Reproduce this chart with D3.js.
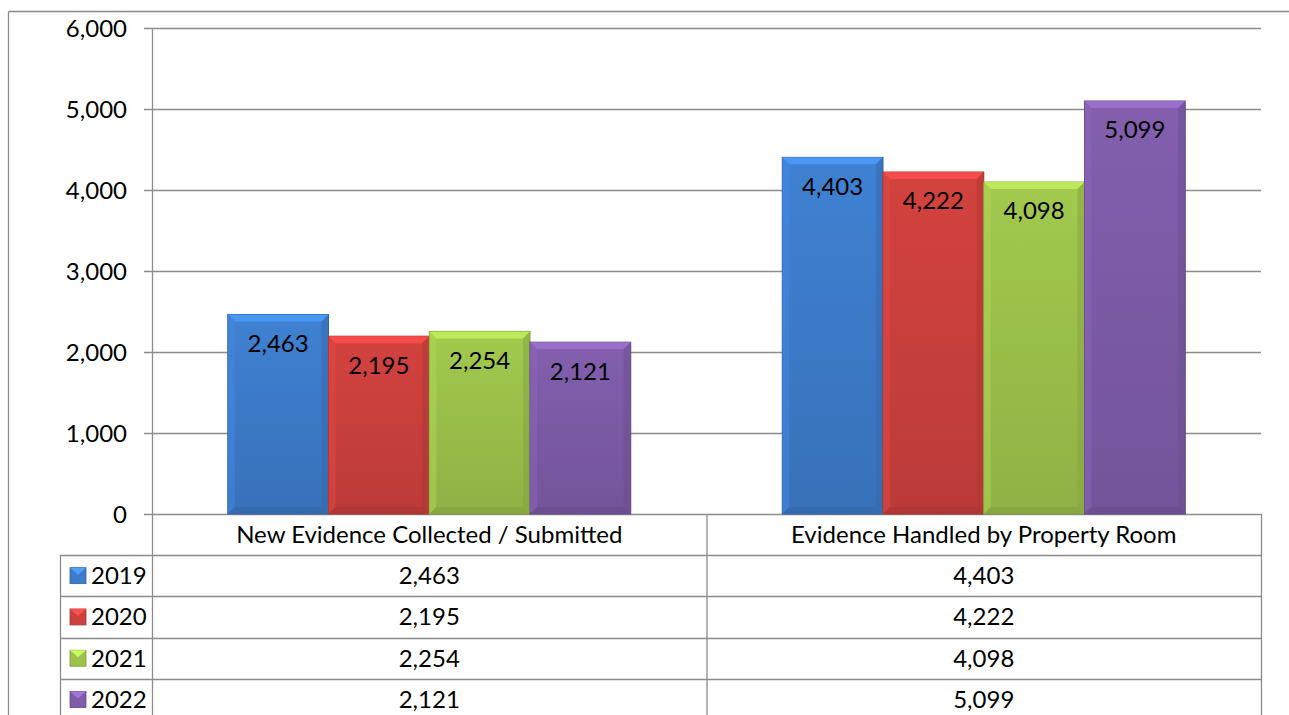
<!DOCTYPE html>
<html>
<head>
<meta charset="utf-8">
<script src="https://cdn.jsdelivr.net/npm/d3@7"></script>
<style>
  body { margin: 0; background: #fff; }
  text { font-family: Lato, "Open Sans", sans-serif; fill: #000; }
</style>
</head>
<body>
<script>
'use strict';

// chart data
const categories = ["New Evidence Collected / Submitted", "Evidence Handled by Property Room"];
const years = ["2019", "2020", "2021", "2022"];
const values2019 = [2463, 4403];
const values2020 = [2195, 4222];
const values2021 = [2254, 4098];
const values2022 = [2121, 5099];
const yTicks = [0, 1000, 2000, 3000, 4000, 5000, 6000];

(function() {

  const series = [values2019, values2020, values2021, values2022];
  const colors = ["#3D7CCB", "#CC403D", "#9DC24B", "#7E5CA8"];

  const W = 1289, H = 715;
  const plotLeft = 152, plotRight = 1261, plotTop = 28, plotBottom = 514;
  const rowH = 41.3;
  const gridColor = "#8c8c8c";
  const fontSize = '24px';

  let svg = d3.select('body').append('svg')
    .attr('width', W)
    .attr('height', H);

  let defs = svg.append('defs');
  colors.forEach((c, i) => {
    let g = defs.append('linearGradient').attr('id', 'grad' + i)
      .attr('x1', 0).attr('x2', 0).attr('y1', 0).attr('y2', 1);
    g.append('stop').attr('offset', '0%').attr('stop-color', d3.color(c).brighter(0.1));
    g.append('stop').attr('offset', '100%').attr('stop-color', d3.color(c).darker(0.25));
  });

  // outer frame
  svg.append('line').attr('x1', 8.5).attr('x2', W).attr('y1', 11.5).attr('y2', 11.5)
    .attr('stroke', gridColor).attr('stroke-width', 1.3);
  svg.append('line').attr('x1', 8.5).attr('x2', 8.5).attr('y1', 11.5).attr('y2', H)
    .attr('stroke', gridColor).attr('stroke-width', 1.3);

  // scales
  let yScale = d3.scaleLinear().domain([0, 6000]).range([plotBottom, plotTop]);
  let x0 = d3.scaleBand().domain(categories).range([plotLeft, plotRight]).padding(0);
  let groupInset = 75.75;
  let x1 = d3.scaleBand().domain(years).range([groupInset, x0.bandwidth() - groupInset]).padding(0);

  // gridlines
  svg.append('g').selectAll('line').data(yTicks).enter().append('line')
    .attr('x1', plotLeft - 8).attr('x2', plotRight)
    .attr('y1', d => Math.round(yScale(d)) + 0.5).attr('y2', d => Math.round(yScale(d)) + 0.5)
    .attr('stroke', gridColor).attr('stroke-width', 1.3);

  // y axis
  let yAxis = d3.axisLeft(yScale).tickValues(yTicks).tickFormat(d3.format(',')).tickSize(0).tickPadding(25);
  let ya = svg.append('g').attr('transform', 'translate(' + plotLeft + ',0)').call(yAxis);
  ya.select('.domain').remove();
  ya.selectAll('text').style('font-size', fontSize).style('font-family', 'Lato, sans-serif').attr('dy', '0.35em');
  svg.append('line').attr('x1', plotLeft + 0.5).attr('x2', plotLeft + 0.5).attr('y1', plotTop).attr('y2', H)
    .attr('stroke', gridColor).attr('stroke-width', 1.3);

  // bars
  let bars = [];
  categories.forEach((cat, ci) => {
    years.forEach((yr, si) => {
      bars.push({ cat: cat, yr: yr, si: si, v: series[si][ci] });
    });
  });

  let barG = svg.append('g').selectAll('g').data(bars).enter().append('g')
    .attr('transform', d => 'translate(' + (x0(d.cat) + x1(d.yr)) + ',' + yScale(d.v) + ')');

  let bw = x1.bandwidth();
  let bev = 7;
  barG.append('rect')
    .attr('width', bw).attr('height', d => plotBottom - yScale(d.v))
    .attr('fill', d => 'url(#grad' + d.si + ')')
    .attr('stroke', d => d3.color(colors[d.si]).darker(0.6))
    .attr('stroke-width', 1);
  // bevel top
  barG.append('path')
    .attr('d', `M0,0 L${bw},0 L${bw - bev},${bev} L${bev},${bev} Z`)
    .attr('fill', d => d3.color(colors[d.si]).brighter(0.6)).attr('opacity', 0.85);
  // bevel left
  barG.append('path')
    .attr('d', d => { let h = plotBottom - yScale(d.v); return `M0,0 L${bev},${bev} L${bev},${h - bev} L0,${h} Z`; })
    .attr('fill', d => d3.color(colors[d.si]).brighter(0.3)).attr('opacity', 0.5);
  // bevel right
  barG.append('path')
    .attr('d', d => { let h = plotBottom - yScale(d.v); return `M${bw},0 L${bw - bev},${bev} L${bw - bev},${h - bev} L${bw},${h} Z`; })
    .attr('fill', d => d3.color(colors[d.si]).darker(0.5)).attr('opacity', 0.5);
  // bevel bottom
  barG.append('path')
    .attr('d', d => { let h = plotBottom - yScale(d.v); return `M0,${h} L${bev},${h - bev} L${bw - bev},${h - bev} L${bw},${h} Z`; })
    .attr('fill', d => d3.color(colors[d.si]).darker(0.6)).attr('opacity', 0.5);

  // data labels
  barG.append('text')
    .attr('x', bw / 2).attr('y', 29)
    .attr('dy', '0.35em')
    .attr('text-anchor', 'middle')
    .style('font-size', fontSize)
    .text(d => d3.format(',')(d.v));

  // data table
  let tableLeft = 60;
  let table = svg.append('g');
  let rowYs = [0, 1, 2, 3, 4].map(i => plotBottom + 41 + i * rowH);
  table.selectAll('line.h').data(rowYs).enter().append('line')
    .attr('x1', tableLeft).attr('x2', plotRight)
    .attr('y1', d => Math.round(d) + 0.5).attr('y2', d => Math.round(d) + 0.5)
    .attr('stroke', gridColor).attr('stroke-width', 1.3);
  table.append('line').attr('x1', tableLeft + 0.5).attr('x2', tableLeft + 0.5)
    .attr('y1', plotBottom + 41).attr('y2', H).attr('stroke', gridColor).attr('stroke-width', 1.3);
  table.append('line').attr('x1', x0(categories[1]) + 0.5).attr('x2', x0(categories[1]) + 0.5)
    .attr('y1', plotBottom).attr('y2', H).attr('stroke', gridColor).attr('stroke-width', 1.3);
  table.append('line').attr('x1', plotRight + 0.5).attr('x2', plotRight + 0.5)
    .attr('y1', plotBottom).attr('y2', H).attr('stroke', gridColor).attr('stroke-width', 1.3);

  // category header
  table.selectAll('text.cat').data(categories).enter().append('text')
    .attr('x', d => x0(d) + x0.bandwidth() / 2)
    .attr('y', plotBottom + 21).attr('dy', '0.35em')
    .attr('text-anchor', 'middle')
    .style('font-size', fontSize)
    .text(d => d);

  // rows with legend keys
  years.forEach((yr, si) => {
    let cy = plotBottom + 41 + si * rowH + rowH / 2;
    let key = table.append('g').attr('transform', 'translate(70,' + (cy - 8) + ')');
    key.append('rect').attr('width', 16).attr('height', 16).attr('fill', colors[si])
      .attr('stroke', d3.color(colors[si]).darker(0.6)).attr('stroke-width', 0.8);
    key.append('path').attr('d', 'M0,0 L16,0 L8,7 Z').attr('fill', d3.color(colors[si]).brighter(0.7));
    table.append('text').attr('x', 91).attr('y', cy).attr('dy', '0.35em')
      .style('font-size', fontSize).text(yr);
    categories.forEach((cat, ci) => {
      table.append('text')
        .attr('x', x0(cat) + x0.bandwidth() / 2).attr('y', cy).attr('dy', '0.35em')
        .attr('text-anchor', 'middle')
        .style('font-size', fontSize)
        .text(d3.format(',')(series[si][ci]));
    });
  });
})();
</script>
</body>
</html>
